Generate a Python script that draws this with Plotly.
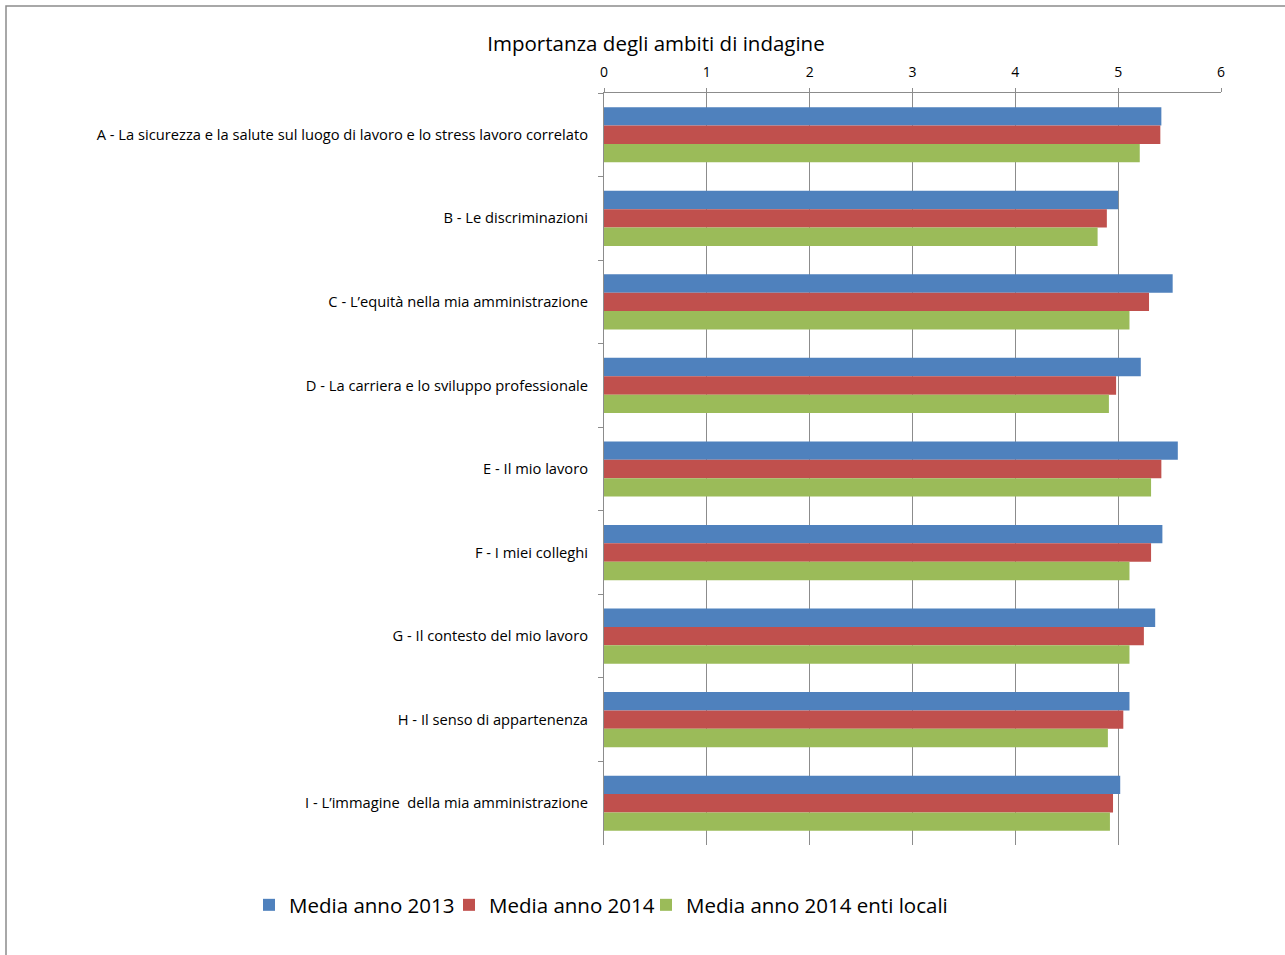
import plotly.graph_objects as go

categories = [
    "A - La sicurezza e la salute sul luogo di lavoro e lo stress lavoro correlato",
    "B - Le discriminazioni",
    "C - L\u2019equità nella mia amministrazione",
    "D - La carriera e lo sviluppo professionale",
    "E - Il mio lavoro",
    "F - I miei colleghi",
    "G - Il contesto del mio lavoro",
    "H - Il senso di appartenenza",
    "I - L\u2019immagine  della mia amministrazione",
]
media_2013 = [5.42, 5.00, 5.53, 5.22, 5.58, 5.43, 5.36, 5.11, 5.02]
media_2014 = [5.41, 4.89, 5.30, 4.98, 5.42, 5.32, 5.25, 5.05, 4.95]
media_2014_enti = [5.21, 4.80, 5.11, 4.91, 5.32, 5.11, 5.11, 4.90, 4.92]

series = [
    ("Media anno 2013", media_2013, "#4F81BD"),
    ("Media anno 2014", media_2014, "#C0504D"),
    ("Media anno 2014 enti locali", media_2014_enti, "#9BBB59"),
]
legend_ids = ["legend", "legend2", "legend3"]
legend_left_px = [249, 449, 646]

fig = go.Figure()
for (name, vals, col), lid in zip(series, legend_ids):
    fig.add_trace(go.Bar(
        y=categories, x=vals, name=name, orientation="h", legend=lid,
        showlegend=True,
        marker=dict(color=col, line=dict(width=0)),
    ))

font = "Open Sans, Liberation Sans, sans-serif"
legend_common = dict(orientation="h", xref="paper", yref="paper", xanchor="left",
                     y=-(905 - 845) / 752, yanchor="middle",
                     font=dict(size=20.5, color="#000000"), itemwidth=30,
                     bgcolor="rgba(0,0,0,0)")
legends = {lid: dict(legend_common, x=(px - 604) / 617)
           for lid, px in zip(legend_ids, legend_left_px)}

fig.update_layout(
    width=1285, height=955, showlegend=True,
    paper_bgcolor="white", plot_bgcolor="white",
    margin=dict(l=604, r=64, t=93, b=110, autoexpand=False),
    barmode="group", bargap=0.34, bargroupgap=0,
    font=dict(family=font, size=14, color="#000000"),
    title=dict(text="Importanza degli ambiti di indagine", x=656/1285, xanchor="center",
               y=1 - 44/955, yanchor="middle", font=dict(size=20.5, color="#000000")),
    xaxis=dict(range=[0, 6], dtick=1, side="top", showgrid=True, gridcolor="#8c8c8c",
               gridwidth=1, zeroline=False, showline=True, linecolor="#8c8c8c",
               ticks="outside", ticklen=4, tickcolor="#8c8c8c", ticklabelstandoff=5,
               tickfont=dict(size=14, color="#000000"), fixedrange=True),
    yaxis=dict(autorange="reversed", showline=True, linecolor="#8c8c8c",
               ticks="outside", ticklen=5, tickcolor="#8c8c8c", tickson="boundaries",
               ticklabelstandoff=12, showgrid=False,
               tickfont=dict(size=14.7, color="#000000")),
    shapes=[dict(type="rect", xref="paper", yref="paper",
                 x0=(6 - 604) / 617, x1=(1290 - 604) / 617,
                 y0=(845 - 960) / 752, y1=(845 - 6) / 752,
                 line=dict(color="#8c8c8c", width=1.5), fillcolor="rgba(0,0,0,0)",
                 layer="below")],
    **legends,
)

fig.write_html("out.html")
